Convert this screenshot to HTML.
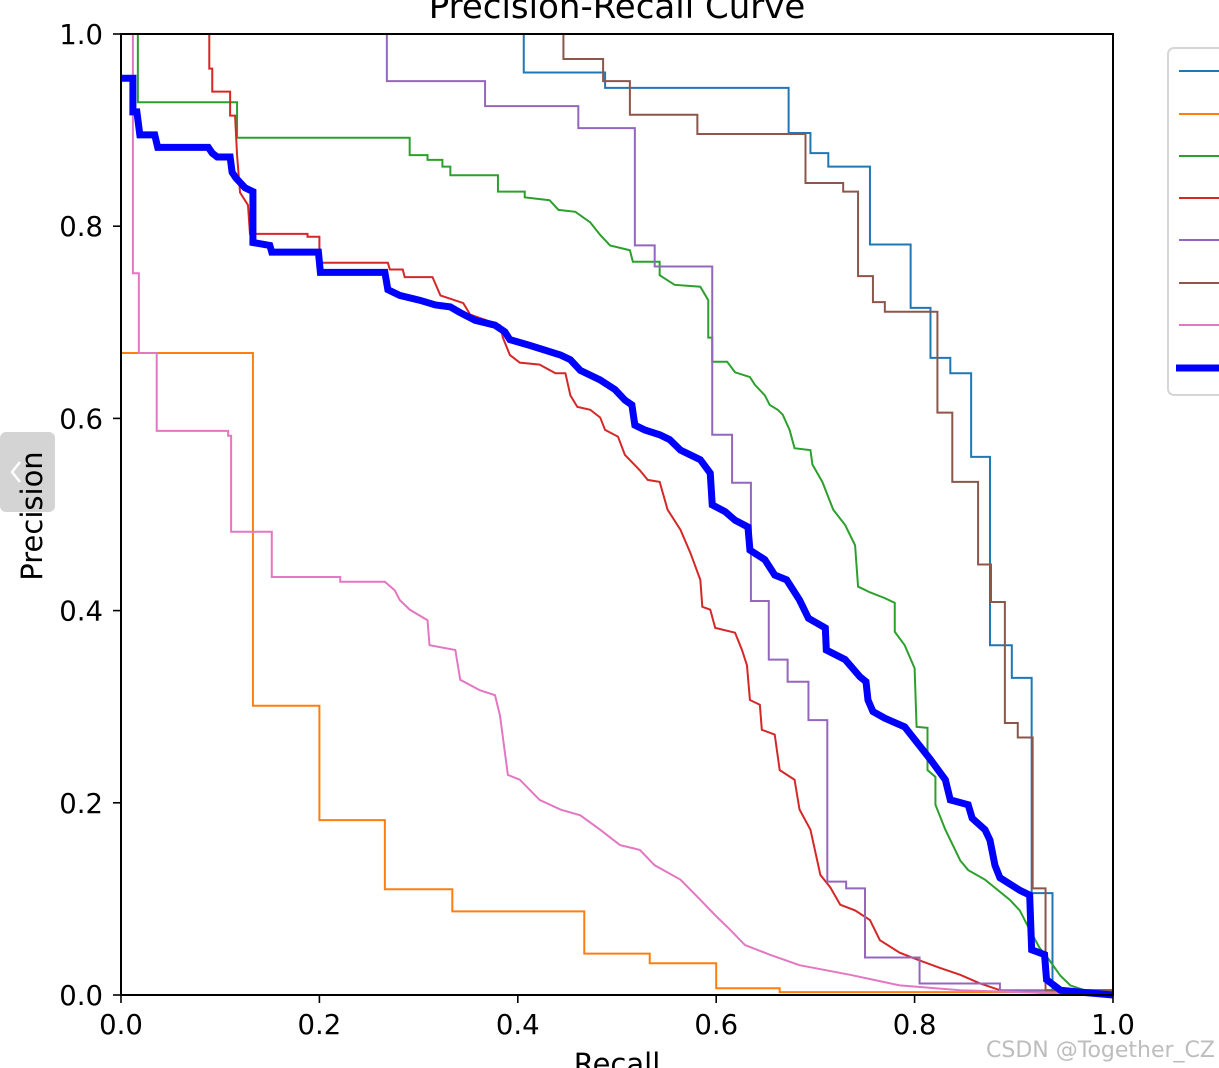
<!DOCTYPE html>
<html><head><meta charset="utf-8"><style>
html,body{margin:0;padding:0;background:#fff;}
svg{display:block;}
text{font-family:"DejaVu Sans","Liberation Sans",sans-serif;}
</style></head><body>
<svg id="chart" width="1219" height="1068" viewBox="0 0 1219 1068" xmlns="http://www.w3.org/2000/svg">
<g>
<rect x="0" y="432" width="55" height="80" rx="6" fill="#d4d4d4"/>
<path d="M20 462 L12 472 L20 482" stroke="#fff" stroke-width="2.5" fill="none"/>
</g>
<text x="617" y="18" font-size="34" text-anchor="middle" fill="#000">Precision-Recall Curve</text>
<g id="series"></g>
<rect x="121" y="34" width="992" height="961" fill="none" stroke="#000" stroke-width="2"/>
<g id="ticks"></g>
<text x="617" y="1074" font-size="29" text-anchor="middle">Recall</text>
<text transform="translate(42,516) rotate(-90)" font-size="29" text-anchor="middle">Precision</text>
<g>
<rect x="1168" y="48" width="70" height="347" rx="6" fill="#fff" stroke="#d6d6d6" stroke-width="2"/>
<g id="legend-entries"></g>
</g>
<text x="1215" y="1057" font-size="22" text-anchor="end" fill="#bdbdbd" font-family="Liberation Sans, sans-serif">CSDN @Together_CZ</text>
</svg>
<script>
const xTicks=[0,0.2,0.4,0.6,0.8,1.0];
const yTicks=[0,0.2,0.4,0.6,0.8,1.0];
const tickLabels=["0.0","0.2","0.4","0.6","0.8","1.0"];

const blueR=[0.406,0.406,0.488,0.673,0.695,0.713,0.755,0.796,0.816,0.836,0.857,0.876,0.898,0.918,0.939,1.0];
const blueP=[1.0,0.960,0.944,0.897,0.876,0.862,0.781,0.715,0.663,0.647,0.560,0.364,0.330,0.106,0.005,0.0];
const orangeR=[0,0.133,0.2,0.266,0.334,0.467,0.533,0.600,0.664,1.0];
const orangeP=[0.668,0.301,0.182,0.110,0.087,0.043,0.033,0.007,0.003,0.0];
const purpleR=[0.268,0.268,0.367,0.461,0.518,0.538,0.596,0.616,0.635,0.653,0.672,0.693,0.712,0.731,0.750,0.805,0.886,1.0];
const purpleP=[1.0,0.951,0.925,0.902,0.780,0.758,0.583,0.533,0.410,0.349,0.326,0.286,0.118,0.111,0.039,0.012,0.005,0.0];
const brownR=[0.446,0.446,0.486,0.513,0.581,0.690,0.728,0.743,0.758,0.770,0.823,0.838,0.864,0.877,0.891,0.904,0.919,0.932,1.0];
const brownP=[1.0,0.974,0.951,0.916,0.896,0.845,0.836,0.748,0.721,0.711,0.606,0.534,0.448,0.409,0.283,0.268,0.111,0.005,0.0];
const greenR=[0.017,0.017,0.117,0.117,0.291,0.291,0.309,0.309,0.324,0.324,0.332,0.332,0.380,0.380,0.407,0.407,0.432,0.441,0.458,0.473,0.483,0.493,0.513,0.516,0.543,0.543,0.558,0.584,0.592,0.592,0.596,0.596,0.611,0.619,0.634,0.639,0.649,0.654,0.662,0.667,0.674,0.679,0.695,0.697,0.707,0.718,0.730,0.740,0.743,0.755,0.770,0.780,0.780,0.790,0.800,0.802,0.813,0.813,0.821,0.821,0.831,0.846,0.854,0.871,0.896,0.906,0.916,0.926,0.936,0.947,0.957,0.977,1.0];
const greenP=[1.0,0.929,0.929,0.892,0.892,0.874,0.874,0.869,0.869,0.862,0.862,0.853,0.853,0.836,0.836,0.830,0.827,0.817,0.815,0.804,0.791,0.780,0.775,0.763,0.763,0.749,0.739,0.737,0.723,0.684,0.684,0.659,0.659,0.648,0.643,0.635,0.624,0.614,0.609,0.604,0.588,0.569,0.567,0.552,0.534,0.505,0.489,0.468,0.425,0.419,0.413,0.408,0.378,0.364,0.340,0.279,0.278,0.234,0.227,0.198,0.172,0.140,0.130,0.120,0.099,0.088,0.068,0.049,0.036,0.020,0.010,0.003,0.0];
const redR=[0.089,0.089,0.092,0.092,0.110,0.110,0.115,0.117,0.120,0.128,0.130,0.188,0.188,0.200,0.200,0.269,0.271,0.284,0.286,0.314,0.322,0.345,0.352,0.382,0.385,0.392,0.402,0.422,0.438,0.448,0.453,0.460,0.473,0.483,0.488,0.501,0.508,0.523,0.531,0.543,0.551,0.564,0.574,0.584,0.586,0.594,0.599,0.619,0.626,0.631,0.634,0.644,0.646,0.659,0.664,0.679,0.684,0.695,0.705,0.715,0.725,0.740,0.755,0.765,0.785,0.805,0.826,0.846,0.866,0.886,0.947,1.0];
const redP=[1.0,0.964,0.964,0.940,0.940,0.915,0.915,0.874,0.835,0.822,0.792,0.792,0.789,0.789,0.762,0.762,0.755,0.755,0.747,0.747,0.728,0.720,0.708,0.697,0.684,0.666,0.658,0.656,0.647,0.647,0.624,0.612,0.609,0.601,0.588,0.581,0.562,0.546,0.536,0.534,0.505,0.484,0.460,0.432,0.404,0.401,0.382,0.377,0.359,0.343,0.307,0.302,0.276,0.271,0.234,0.224,0.193,0.172,0.125,0.112,0.094,0.088,0.078,0.057,0.044,0.036,0.028,0.021,0.012,0.005,0.001,0.0];
const pinkR=[0.012,0.012,0.018,0.018,0.036,0.036,0.108,0.108,0.111,0.111,0.152,0.152,0.221,0.221,0.266,0.276,0.281,0.291,0.309,0.311,0.337,0.342,0.362,0.377,0.382,0.390,0.402,0.422,0.443,0.463,0.483,0.503,0.523,0.538,0.564,0.584,0.599,0.614,0.629,0.654,0.684,0.735,0.785,0.846,0.936,1.0];
const pinkP=[1.0,0.751,0.751,0.668,0.668,0.587,0.587,0.582,0.582,0.482,0.482,0.435,0.435,0.430,0.430,0.421,0.411,0.401,0.390,0.364,0.359,0.328,0.317,0.312,0.291,0.229,0.224,0.203,0.193,0.187,0.172,0.156,0.151,0.135,0.120,0.099,0.083,0.068,0.052,0.042,0.031,0.021,0.010,0.005,0.002,0.0];
const meanR=[0,0.012,0.012,0.016,0.019,0.034,0.037,0.088,0.092,0.097,0.110,0.112,0.116,0.125,0.133,0.133,0.150,0.152,0.199,0.201,0.266,0.269,0.281,0.301,0.317,0.332,0.342,0.357,0.377,0.387,0.392,0.412,0.443,0.453,0.463,0.483,0.498,0.508,0.515,0.518,0.528,0.543,0.553,0.564,0.574,0.584,0.594,0.596,0.609,0.619,0.632,0.634,0.649,0.659,0.671,0.684,0.693,0.710,0.711,0.730,0.745,0.751,0.753,0.758,0.770,0.790,0.803,0.816,0.831,0.836,0.854,0.858,0.871,0.876,0.881,0.886,0.906,0.916,0.918,0.931,0.933,0.947,0.967,1.0];
const meanP=[0.954,0.954,0.919,0.919,0.895,0.895,0.882,0.882,0.876,0.872,0.872,0.856,0.850,0.840,0.836,0.783,0.780,0.773,0.773,0.752,0.752,0.734,0.728,0.723,0.718,0.716,0.710,0.702,0.697,0.690,0.682,0.676,0.666,0.661,0.650,0.640,0.630,0.619,0.614,0.593,0.588,0.583,0.578,0.567,0.562,0.557,0.543,0.510,0.503,0.494,0.487,0.463,0.453,0.437,0.432,0.411,0.392,0.382,0.359,0.349,0.331,0.326,0.307,0.295,0.288,0.279,0.262,0.245,0.224,0.203,0.198,0.184,0.172,0.161,0.135,0.122,0.109,0.104,0.047,0.042,0.016,0.005,0.003,0.0];

const X0=121,X1=1113,Y0=995,Y1=34;
function sx(v){return X0+v*(X1-X0);}
function sy(v){return Y0-v*(Y0-Y1);}
const NS='http://www.w3.org/2000/svg';

function stepPath(r,p){let d='M'+sx(r[0])+' '+sy(p[0]);for(let i=1;i<r.length;i++){d+=' L'+sx(r[i])+' '+sy(p[i-1])+' L'+sx(r[i])+' '+sy(p[i]);}return d;}
function linePath(r,p){let d='M'+sx(r[0])+' '+sy(p[0]);for(let i=1;i<r.length;i++){d+=' L'+sx(r[i])+' '+sy(p[i]);}return d;}

const g=document.getElementById('series');
function addLine(d,color,w,name){
  const el=document.createElementNS(NS,'path');
  el.setAttribute('d',d);el.setAttribute('stroke',color);el.setAttribute('stroke-width',w);
  el.setAttribute('fill','none');el.setAttribute('stroke-linejoin','miter');
  
  
  g.appendChild(el);
}
addLine(stepPath(blueR,blueP),'#1f77b4',2,'curve-class-0');
addLine(stepPath(orangeR,orangeP),'#ff7f0e',2,'curve-class-1');
addLine(linePath(greenR,greenP),'#2ca02c',2,'curve-class-2');
addLine(linePath(redR,redP),'#d62728',2,'curve-class-3');
addLine(stepPath(purpleR,purpleP),'#9467bd',2,'curve-class-4');
addLine(stepPath(brownR,brownP),'#8c564b',2,'curve-class-5');
addLine(linePath(pinkR,pinkP),'#e377c2',2,'curve-class-6');
addLine(linePath(meanR,meanP),'#0000ff',7,'curve-all-classes');

const t=document.getElementById('ticks');
for(let i=0;i<xTicks.length;i++){
  const x=sx(xTicks[i]);
  const l=document.createElementNS(NS,'line');
  l.setAttribute('x1',x);l.setAttribute('x2',x);l.setAttribute('y1',995);l.setAttribute('y2',1003);
  l.setAttribute('stroke','#000');l.setAttribute('stroke-width','1.6');
  
  
  t.appendChild(l);
  const tx=document.createElementNS(NS,'text');
  tx.setAttribute('x',x);tx.setAttribute('y',1034);tx.setAttribute('font-size','27.5');tx.setAttribute('text-anchor','middle');
  tx.textContent=tickLabels[i];
  
  
  t.appendChild(tx);
}
for(let i=0;i<yTicks.length;i++){
  const y=sy(yTicks[i]);
  const l=document.createElementNS(NS,'line');
  l.setAttribute('x1',113);l.setAttribute('x2',121);l.setAttribute('y1',y);l.setAttribute('y2',y);
  l.setAttribute('stroke','#000');l.setAttribute('stroke-width','1.6');
  
  
  t.appendChild(l);
  const tx=document.createElementNS(NS,'text');
  tx.setAttribute('x',103);tx.setAttribute('y',y+10);tx.setAttribute('font-size','27.5');tx.setAttribute('text-anchor','end');
  tx.textContent=tickLabels[i];
  
  
  t.appendChild(tx);
}
const legColors=['#1f77b4','#ff7f0e','#2ca02c','#d62728','#9467bd','#8c564b','#e377c2','#0000ff'];
const legY=[71,114,156,198,240,283,325,368];
const lg=document.getElementById('legend-entries');
for(let i=0;i<legColors.length;i++){
  const l=document.createElementNS(NS,'line');
  l.setAttribute('x1',i==7?1176:1179);l.setAttribute('x2',1222);l.setAttribute('y1',legY[i]);l.setAttribute('y2',legY[i]);
  l.setAttribute('stroke',legColors[i]);l.setAttribute('stroke-width',i==7?7:2);
  
  
  lg.appendChild(l);
}
</script>
</body></html>
